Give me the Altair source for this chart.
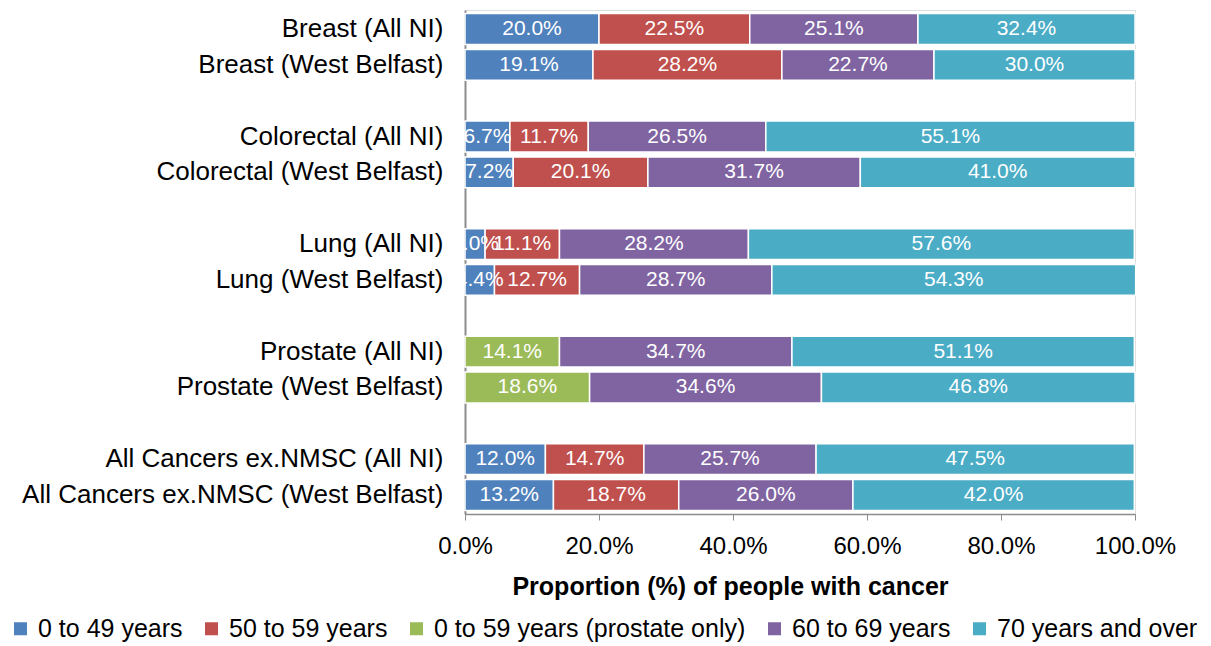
import altair as alt
import pandas as pd

categories = ["Breast (All NI)", "Breast (West Belfast)",
              "Colorectal (All NI)", "Colorectal (West Belfast)",
              "Lung (All NI)", "Lung (West Belfast)",
              "Prostate (All NI)", "Prostate (West Belfast)",
              "All Cancers ex.NMSC (All NI)", "All Cancers ex.NMSC (West Belfast)"]
age_0_49 = [20.0, 19.1, 6.7, 7.2, 3.0, 4.4, None, None, 12.0, 13.2]
age_50_59 = [22.5, 28.2, 11.7, 20.1, 11.1, 12.7, None, None, 14.7, 18.7]
age_0_59_prostate = [None, None, None, None, None, None, 14.1, 18.6, None, None]
age_60_69 = [25.1, 22.7, 26.5, 31.7, 28.2, 28.7, 34.7, 34.6, 25.7, 26.0]
age_70_plus = [32.4, 30.0, 55.1, 41.0, 57.6, 54.3, 51.1, 46.8, 47.5, 42.0]

series_names = ["0 to 49 years", "50 to 59 years", "0 to 59 years (prostate only)",
                "60 to 69 years", "70 years and over"]
series_values = [age_0_49, age_50_59, age_0_59_prostate, age_60_69, age_70_plus]
colors = ["#4F81BD", "#C0504D", "#9BBB59", "#8064A2", "#4BACC6"]

rows = []
for si, (name, vals) in enumerate(zip(series_names, series_values)):
    for cat, v in zip(categories, vals):
        if v is not None:
            rows.append({"category": cat, "series": name, "order": si, "value": v})
df = pd.DataFrame(rows)

y_domain = []
for i in range(0, len(categories), 2):
    y_domain += [categories[i], categories[i + 1]]
    if i + 2 < len(categories):
        y_domain.append("gap%d" % i)

base = alt.Chart(df).transform_stack(
    stack="value", groupby=["category"], as_=["x0", "x1"],
    sort=[alt.SortField("order", order="ascending")]
).transform_calculate(
    mid="(datum.x0 + datum.x1) / 2",
    label="format(datum.value, '.1f') + '%'"
)

y_enc = alt.Y("category:N", sort=y_domain,
              scale=alt.Scale(domain=y_domain, paddingInner=0.14, paddingOuter=0.1),
              axis=alt.Axis(title=None, ticks=False, labelFontSize=26, labelColor="#000000",
                            labelPadding=22, domainColor="#8c8c8c", domainWidth=2,
                            labelLimit=600,
                            labelExpr="indexof(datum.value, 'gap') == 0 ? '' : datum.value"))

bars = base.mark_bar(stroke="white", strokeWidth=1.5).encode(
    x=alt.X("x0:Q", scale=alt.Scale(domain=[0, 100], nice=False),
            axis=alt.Axis(title="Proportion (%) of people with cancer", titleFontSize=25,
                          titleFontWeight="bold", titleColor="#000000", titlePadding=16,
                          titleX=265, titleAlign="center",
                          values=[0, 20, 40, 60, 80, 100], labelFontSize=24,
                          labelColor="#000000", labelPadding=14, grid=False,
                          labelFlush=False, labelOverlap=False,
                          tickColor="#8c8c8c", tickSize=6, domainColor="#8c8c8c",
                          domainWidth=1.5,
                          labelExpr="format(datum.value, '.1f') + '%'")),
    x2="x1:Q",
    y=y_enc,
    color=alt.Color("series:N", sort=series_names,
                    scale=alt.Scale(domain=series_names, range=colors),
                    legend=alt.Legend(title=None, orient="none", direction="horizontal",
                                      legendX=-457, legendY=606, labelFontSize=25,
                                      labelColor="#000000", symbolType="square",
                                      symbolSize=169, symbolStrokeWidth=0,
                                      columnPadding=16, labelOffset=5, labelLimit=600))
)

text = base.mark_text(color="white", fontSize=21, align="center", baseline="middle").encode(
    x="mid:Q",
    y=alt.Y("category:N", sort=y_domain),
    text="label:N"
)

chart = alt.layer(bars, text).properties(
    width=670, height=504,
    padding={"top": 2, "left": 0, "right": 0, "bottom": 0}
).configure_view(stroke=None).configure(font="Liberation Sans")

chart.save("out.html", embed_options={"renderer": "svg", "actions": False})
